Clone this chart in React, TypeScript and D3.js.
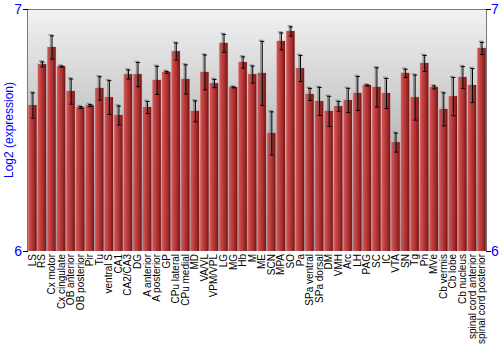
import React from "react";
import * as d3 from "d3";

const categories = ["LS","RS","Cx motor","Cx cingulate","OB anterior","OB posterior","Pir","Tu","ventral S","CA1","CA2/CA3","DG","A anterior","A posterior","GP","CPu lateral","CPu medial","MD","VA/VL","VPM/VPL","LG","MG","Hb","M","ME","SCN","MPA","SO","Pa","SPa ventral","SPa dorsal","DM","VMH","Arc","LH","PAG","SC","IC","VTA","SN","Tg","Pn","MVe","Cb vermis","Cb lobe","Cb nucleus","spinal cord anterior","spinal cord posterior"];

const values = [6.603,6.773,6.843,6.764,6.661,6.595,6.603,6.674,6.636,6.562,6.731,6.731,6.595,6.707,6.740,6.826,6.711,6.579,6.740,6.694,6.860,6.678,6.781,6.731,6.736,6.488,6.868,6.909,6.756,6.649,6.620,6.579,6.599,6.624,6.653,6.686,6.678,6.653,6.450,6.736,6.636,6.777,6.678,6.587,6.640,6.719,6.686,6.839];

const errors = [0.052,0.010,0.048,0.002,0.052,0.004,0.004,0.048,0.070,0.039,0.019,0.050,0.025,0.058,0.004,0.035,0.060,0.043,0.072,0.017,0.037,0.002,0.023,0.035,0.132,0.089,0.035,0.019,0.054,0.025,0.058,0.062,0.021,0.050,0.070,0.002,0.081,0.062,0.039,0.017,0.093,0.033,0.006,0.068,0.079,0.045,0.070,0.025];

const yTicks = [6, 7];

export default function App() {
  const W = 500, H = 350;
  const left = 28, right = 486, top = 9, bottom = 251;
  const x = d3.scaleBand<string>().domain(categories).range([left, right]).paddingInner(0.13).paddingOuter(0.03);
  const y = d3.scaleLinear().domain([6, 7]).range([bottom, top]);
  const bw = x.bandwidth();
  return (
    <svg width={W} height={H} style={{ position: "absolute", left: 0, top: 0, fontFamily: "Liberation Sans, Arial, sans-serif" }}>
      <defs>
        <linearGradient id="bg" x1="0" y1="0" x2="0" y2="1">
          <stop offset="0" stopColor="#f2f2f2" />
          <stop offset="1" stopColor="#8e8e8e" />
        </linearGradient>
        <linearGradient id="bar" x1="0" y1="0" x2="1" y2="0">
          <stop offset="0" stopColor="#d55a5a" />
          <stop offset="0.3" stopColor="#c24242" />
          <stop offset="0.7" stopColor="#a12a2a" />
          <stop offset="1" stopColor="#6e1414" />
        </linearGradient>
      </defs>
      <rect x={left} y={top} width={right - left} height={bottom - top} fill="url(#bg)" />
      {categories.map((c, i) => {
        const x0 = x(c)!;
        const yv = y(values[i]);
        return (
          <g key={c}>
            <rect x={x0 - 0.5} y={yv - 0.5} width={bw + 1} height={bottom - yv + 0.5} fill="#e8a0a0" opacity={0.5} />
            <rect x={x0} y={yv} width={bw} height={bottom - yv} fill="url(#bar)" />
          </g>
        );
      })}
      {categories.map((c, i) => {
        const cx = x(c)! + bw / 2;
        const y1 = y(values[i] + errors[i]);
        const y2 = y(values[i] - errors[i]);
        return (
          <g key={"e" + c}>
            <line x1={cx - 1} x2={cx - 1} y1={y1} y2={y2} stroke="#666" strokeWidth={1.5} opacity={0.6} />
            <line x1={cx - 3} x2={cx + 1.5} y1={y1 - 0.5} y2={y1 - 0.5} stroke="#666" strokeWidth={1.5} opacity={0.6} />
            <line x1={cx + 0.5} x2={cx + 0.5} y1={y1} y2={y2} stroke="#000" strokeWidth={1} />
            <line x1={cx - 1.5} x2={cx + 2.5} y1={y1 + 0.5} y2={y1 + 0.5} stroke="#000" strokeWidth={1} />
            <line x1={cx - 1.5} x2={cx + 2.5} y1={y2 + 0.5} y2={y2 + 0.5} stroke="#000" strokeWidth={1} />
          </g>
        );
      })}
      <line x1={left} x2={right} y1={top + 0.5} y2={top + 0.5} stroke="#777" strokeWidth={1} />
      <line x1={left - 0.5} x2={left - 0.5} y1={top} y2={bottom} stroke="#777" strokeWidth={1} />
      <line x1={right + 0.5} x2={right + 0.5} y1={top} y2={bottom} stroke="#777" strokeWidth={1} />
      {yTicks.map((t) => (
        <g key={"t" + t}>
          <line x1={left - 5} x2={left} y1={y(t) + 0.5} y2={y(t) + 0.5} stroke="#000" />
          <line x1={right} x2={right + 5} y1={y(t) + 0.5} y2={y(t) + 0.5} stroke="#000" />
          <text x={left - 6} y={y(t) + 5} textAnchor="end" fill="#0000ff" fontSize={14}>{t}</text>
          <text x={right + 5} y={y(t) + 5} textAnchor="start" fill="#0000ff" fontSize={14}>{t}</text>
        </g>
      ))}
      <text transform={`translate(13,${(top + bottom) / 2}) rotate(-90)`} textAnchor="middle" fill="#0000ff" fontSize={12}>Log2 (expression)</text>
      {categories.map((c) => (
        <text key={"l" + c} transform={`translate(${x(c)! + bw / 2 + 3.5},${bottom + 3}) rotate(-90)`} textAnchor="end" fontSize={10} fill="#000">{c}</text>
      ))}
    </svg>
  );
}
